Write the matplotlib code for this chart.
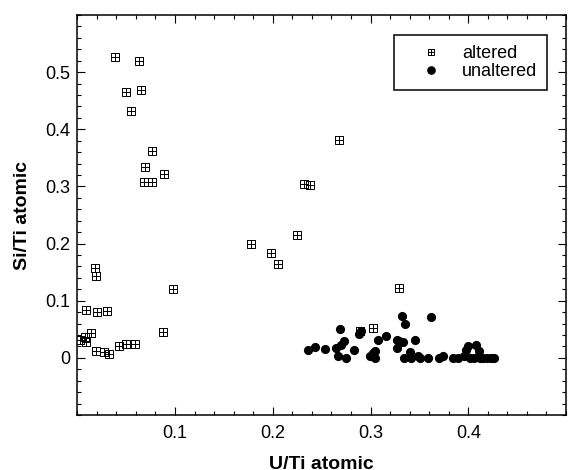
import matplotlib
matplotlib.use("Agg")
import matplotlib.pyplot as plt
from matplotlib.path import Path
from matplotlib.lines import Line2D
from matplotlib.ticker import MultipleLocator, FixedLocator, FixedFormatter

plt.rcParams['font.family'] = ['Liberation Sans', 'DejaVu Sans']

# altered samples (U/Ti, Si/Ti)
alt_x = [0.0386, 0.0635, 0.0495, 0.0652, 0.055, 0.0768, 0.0693, 0.0887, 0.0683, 0.0768,
         0.268, 0.232, 0.238, 0.225, 0.178, 0.198, 0.205, 0.329, 0.3027, 0.2894,
         0.0983, 0.0874, 0.0177, 0.0196, 0.0086, 0.0198, 0.030, 0.0143, 0.0079, 0.0089,
         0.003, 0.0191, 0.0276, 0.0324, 0.043, 0.0498, 0.0594]
alt_y = [0.526, 0.519, 0.4646, 0.469, 0.432, 0.362, 0.334, 0.322, 0.307, 0.307,
         0.381, 0.304, 0.302, 0.2145, 0.1995, 0.1843, 0.1646, 0.1216, 0.0523, 0.047,
         0.120, 0.0448, 0.158, 0.143, 0.0844, 0.0797, 0.082, 0.0443, 0.0366, 0.028,
         0.031, 0.0117, 0.0105, 0.006, 0.0199, 0.0244, 0.0244]

# unaltered samples (U/Ti, Si/Ti)
un_x = [0.236, 0.243, 0.253, 0.265, 0.267, 0.269, 0.270, 0.273, 0.275, 0.283,
        0.288, 0.290, 0.299, 0.303, 0.305, 0.305, 0.308, 0.316, 0.327, 0.327,
        0.329, 0.333, 0.332, 0.335, 0.334, 0.340, 0.341, 0.345, 0.349, 0.351,
        0.359, 0.362, 0.370, 0.374, 0.384, 0.389, 0.396, 0.398, 0.400, 0.402,
        0.406, 0.408, 0.411, 0.412, 0.415, 0.419, 0.423, 0.426]
un_y = [0.013, 0.019, 0.016, 0.017, 0.003, 0.051, 0.022, 0.030, 0.000, 0.013,
        0.041, 0.047, 0.004, 0.008, 0.012, 0.000, 0.031, 0.039, 0.031, 0.017,
        0.029, 0.028, 0.074, 0.060, 0.000, 0.010, 0.000, 0.031, 0.004, 0.000,
        0.000, 0.072, 0.000, 0.004, 0.000, 0.000, 0.004, 0.013, 0.020, 0.000,
        0.000, 0.022, 0.012, 0.000, 0.000, 0.000, 0.000, 0.000]

x_ticks = [0.1, 0.2, 0.3, 0.4]
x_tick_labels = ['0.1', '0.2', '0.3', '0.4']
y_ticks = [0, 0.1, 0.2, 0.3, 0.4, 0.5]
y_tick_labels = ['0', '0.1', '0.2', '0.3', '0.4', '0.5']

# square-with-plus marker
verts = [(-1, -1), (1, -1), (1, 1), (-1, 1), (-1, -1),
         (0, -1), (0, 1), (-1, 0), (1, 0)]
codes = [Path.MOVETO, Path.LINETO, Path.LINETO, Path.LINETO, Path.CLOSEPOLY,
         Path.MOVETO, Path.LINETO, Path.MOVETO, Path.LINETO]
boxplus = Path(verts, codes)

fig = plt.figure(figsize=(5.69, 4.70), dpi=100)
ax = fig.add_axes([77.3 / 569, 55 / 470, (566 - 77.3) / 569, 400 / 470])

ax.plot(alt_x, alt_y, linestyle='none', marker=boxplus, ms=6.3, mfc='none',
        mec='black', mew=0.7, zorder=3)
ax.plot(un_x, un_y, linestyle='none', marker='o', ms=6.6, mfc='black',
        mec='black', mew=0, zorder=4)

ax.set_xlim(0, 0.5)
ax.set_ylim(-0.1, 0.6)

ax.xaxis.set_major_locator(FixedLocator(x_ticks))
ax.xaxis.set_major_formatter(FixedFormatter(x_tick_labels))
ax.yaxis.set_major_locator(FixedLocator(y_ticks))
ax.yaxis.set_major_formatter(FixedFormatter(y_tick_labels))
ax.xaxis.set_minor_locator(MultipleLocator(0.02))
ax.yaxis.set_minor_locator(MultipleLocator(0.02))

ax.tick_params(which='both', direction='in', top=True, right=True, width=0.8,
               colors='black', labelsize=13)
ax.tick_params(which='major', length=5.5)
ax.tick_params(which='minor', length=3)
ax.tick_params(axis='x', which='major', pad=7)
ax.tick_params(axis='y', which='major', pad=5)
for s in ax.spines.values():
    s.set_linewidth(1.1)
    s.set_color('black')

ax.set_xlabel('U/Ti atomic', fontsize=14, fontweight='bold', labelpad=10)
ax.set_ylabel('Si/Ti atomic', fontsize=14, fontweight='bold', labelpad=10)

h1 = Line2D([], [], linestyle='none', marker=boxplus, ms=4.8, mfc='none',
            mec='black', mew=0.7)
h2 = Line2D([], [], linestyle='none', marker='o', ms=5.2, mfc='black', mec='black')
leg = ax.legend([h1, h2], ['altered', 'unaltered'], loc='upper right',
                bbox_to_anchor=(0.961, 0.95), borderaxespad=0, fontsize=13,
                frameon=True, fancybox=False, edgecolor='black', framealpha=1,
                handlelength=3.0, handletextpad=0.2, labelspacing=0.05,
                borderpad=0.55)
leg.get_frame().set_linewidth(1.1)

fig.savefig('out.png', dpi=100)
